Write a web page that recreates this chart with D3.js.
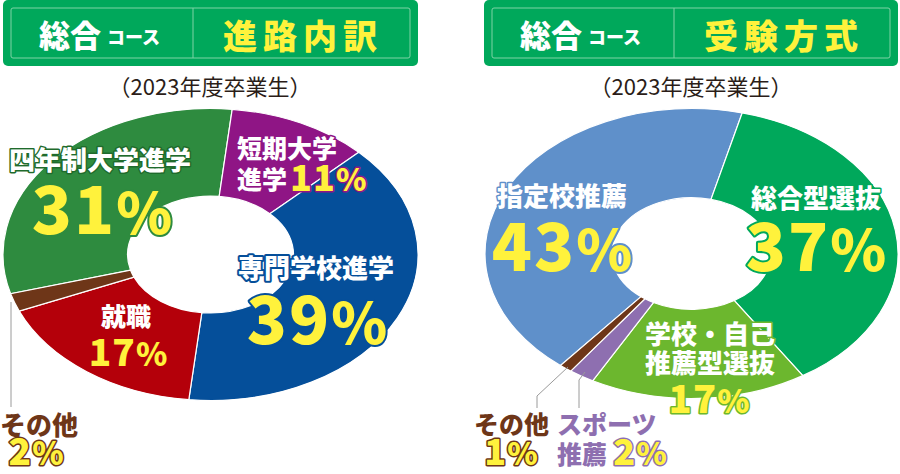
<!DOCTYPE html>
<html><head><meta charset="utf-8">
<script src="https://cdn.jsdelivr.net/npm/d3@7/dist/d3.min.js"></script>
<style>
html,body{margin:0;padding:0;background:#fff;}
svg{display:block;}
text{font-family:"Noto Sans CJK JP","Noto Sans",sans-serif;}
</style></head>
<body>
<svg id="c" width="900" height="474"></svg>
<script>
// ---- data ----
const leftTitle = "進路内訳";
const rightTitle = "受験方式";
const courseName = "総合";
const courseSuffix = "コース";
const subtitle = "（2023年度卒業生）";

const leftCategories = ["四年制大学進学", "短期大学進学", "専門学校進学", "就職", "その他"];
const leftValues = [31, 11, 39, 17, 2];
const leftColors = ["#2e8b3f", "#8f1585", "#054f9a", "#b4000a", "#6e3618"];

const rightCategories = ["指定校推薦", "総合型選抜", "学校・自己推薦型選抜", "スポーツ推薦", "その他"];
const rightValues = [43, 37, 17, 2, 1];
const rightColors = ["#5f90ca", "#00a85b", "#6cb72e", "#8e6fb0", "#6e3618"];

const YELLOW = "#fff23c";
const svg = d3.select("#c");

function header(x0, w, title) {
  const g = svg.append("g");
  g.append("rect").attr("x", x0).attr("y", 0).attr("width", w).attr("height", 66)
    .attr("rx", 5).attr("fill", "#00a85b");
  g.append("rect").attr("x", x0 + 8).attr("y", 8).attr("width", w - 16).attr("height", 50)
    .attr("rx", 2).attr("fill", "none").attr("stroke", "#7fd3a6").attr("stroke-width", 1);
  const dx = x0 + 190;
  g.append("line").attr("x1", dx).attr("x2", dx).attr("y1", 8).attr("y2", 58)
    .attr("stroke", "#7fd3a6").attr("stroke-width", 1);
  const t = g.append("text").attr("x", x0 + 36).attr("y", 47).attr("fill", "#fff").attr("font-weight", 900);
  t.append("tspan").attr("font-size", 31).text(courseName);
  t.append("tspan").attr("font-size", 18).attr("dx", 6).attr("dy", -3).text(courseSuffix);
  g.append("text").attr("x", x0 + 300).attr("y", 49).attr("text-anchor", "middle")
    .attr("fill", YELLOW).attr("font-weight", 900).attr("font-size", 34)
    .attr("letter-spacing", 6).text(title);
  g.append("text").attr("x", x0 + 207).attr("y", 95).attr("text-anchor", "middle")
    .attr("fill", "#2b1d18").attr("font-size", 22).text(subtitle);
}
header(3, 415, leftTitle);
header(484, 414, rightTitle);

function donut(cx, cy, rx, ry, innerRatio, values, colors, startDeg) {
  const s = startDeg * Math.PI / 180;
  const pie = d3.pie().sort(null).startAngle(s).endAngle(s + 2 * Math.PI);
  const arc = d3.arc().innerRadius(rx * innerRatio).outerRadius(rx);
  const g = svg.append("g").attr("transform", `translate(${cx},${cy}) scale(1,${ry / rx})`);
  const arcs = pie(values);
  g.selectAll("path").data(arcs).enter().append("path")
    .attr("d", arc).attr("fill", (d, i) => colors[i])
    .attr("stroke", "#fff").attr("stroke-width", 1.2)
    .attr("vector-effect", "non-scaling-stroke");
  return arcs;
}

donut(210.5, 254.5, 207.5, 146, 0.40, leftValues, leftColors, -105.6);
donut(691.5, 253.5, 206.5, 145, 0.385, rightValues, rightColors, -140.6);

function label(x, y, txt, size, fill, stroke, sw, anchor, ls) {
  return svg.append("text").attr("x", x).attr("y", y).attr("text-anchor", anchor || "middle")
    .attr("font-size", size).attr("font-weight", 900).attr("fill", fill)
    .attr("stroke", stroke || "none").attr("stroke-width", sw || 0)
    .attr("stroke-linejoin", "round").attr("paint-order", "stroke")
    .attr("letter-spacing", ls || 0)
    .text(txt);
}
function pct(x, y, v, size, stroke, sw, anchor) {
  const t = svg.append("text").attr("x", x).attr("y", y).attr("text-anchor", anchor || "middle")
    .attr("font-size", size).attr("font-weight", 900).attr("fill", YELLOW)
    .attr("stroke", stroke).attr("stroke-width", sw)
    .attr("stroke-linejoin", "round").attr("paint-order", "stroke");
  t.append("tspan").attr("letter-spacing", size * 0.03).text(v);
  t.append("tspan").attr("font-size", size * 0.86).text("%");
  return t;
}

// leader lines
function leader(points) {
  svg.append("path").attr("d", d3.line()(points)).attr("fill", "none")
    .attr("stroke", "#9a9a9a").attr("stroke-width", 1);
}
leader([[11, 302], [11, 407]]);
leader([[568, 367], [537, 396], [537, 408]]);
leader([[585, 372], [579, 380], [579, 408]]);

// left labels
label(100, 170, "四年制大学進学", 26, "#fff", "#1f6b2c", 3);
pct(102, 234, leftValues[0], 66, leftColors[0], 4);
label(237, 158, "短期大学", 25, "#fff", leftColors[1], 3, "start");
label(237, 189, "進学", 25, "#fff", leftColors[1], 3, "start");
pct(290, 191, leftValues[1], 36, leftColors[1], 3, "start");
label(316, 278, "専門学校進学", 26, "#fff", leftColors[2], 4);
pct(317, 344, leftValues[2], 66, leftColors[2], 4);
label(126, 326, "就職", 25, "#fff", leftColors[3], 3);
pct(128, 366, leftValues[3], 37, leftColors[3], 3);
label(0, 435, "その他", 26, "#6e3618", "none", 0, "start");
pct(36, 465, leftValues[4], 37, "#6e3618", 3);

// right labels
label(562, 206, "指定校推薦", 26, "#fff", rightColors[0], 3);
pct(562, 271, rightValues[0], 66, rightColors[0], 4);
label(816, 208, "総合型選抜", 26, "#fff", rightColors[1], 3);
pct(816, 271, rightValues[1], 66, rightColors[1], 4);
label(710, 344, "学校・自己", 26, "#fff", rightColors[2], 3);
label(710, 373, "推薦型選抜", 26, "#fff", rightColors[2], 3);
pct(709, 413, rightValues[2], 38, rightColors[2], 3);
label(474, 434, "その他", 25, "#6e3618", "none", 0, "start");
pct(511, 465, rightValues[4], 36, "#6e3618", 3);
label(557, 434, "スポーツ", 25, "#8e6fb0", "none", 0, "start");
label(557, 464, "推薦", 25, "#8e6fb0", "none", 0, "start");
pct(640, 465, rightValues[3], 36, rightColors[3], 3);
</script>
</body></html>
